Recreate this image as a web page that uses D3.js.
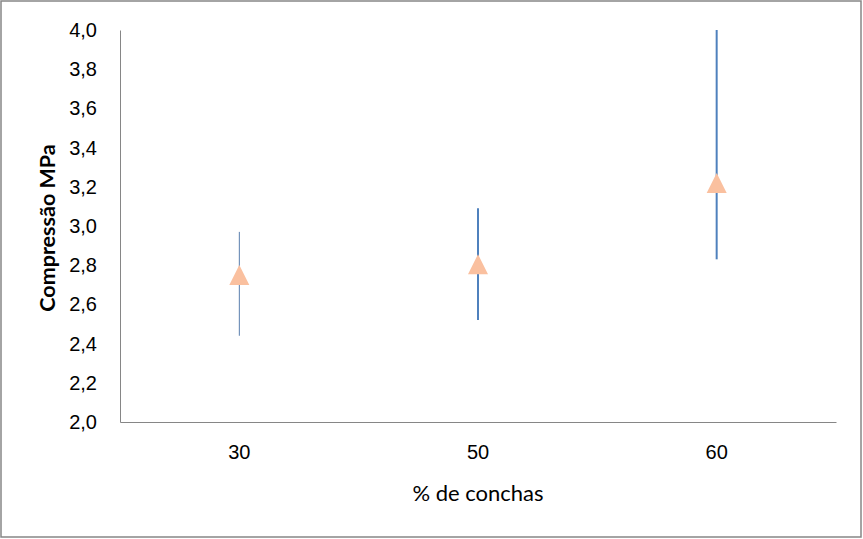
<!DOCTYPE html>
<html>
<head>
<meta charset="utf-8">
<script src="https://cdn.jsdelivr.net/npm/d3@7"></script>
<style>
  body { margin: 0; background: #fff; }
  svg { display: block; font-family: Lato, "Open Sans", sans-serif; }
</style>
</head>
<body>
<div id="chart"></div>
<script>
var width = 863;
var height = 539;

// values
var categories = ["30", "50", "60"];
var means = [2.75, 2.805, 3.22];
var errLow = [2.44, 2.52, 2.83];
var errHigh = [2.97, 3.09, 4.0];
var barWidths = [1, 2, 2];
var barColors = ["#5a7fae", "#4f81bd", "#4f81bd"];
var yTicks = [2.0, 2.2, 2.4, 2.6, 2.8, 3.0, 3.2, 3.4, 3.6, 3.8, 4.0];

var margin = {top: 30, right: 27, bottom: 117, left: 120};

var svg = d3.select("#chart").append("svg")
    .attr("width", width)
    .attr("height", height);

// outer frame
svg.append("rect")
    .attr("x", 1).attr("y", 1)
    .attr("width", width - 3).attr("height", height - 3)
    .attr("fill", "white")
    .attr("stroke", "#868686")
    .attr("stroke-width", 1.5);

var x = d3.scaleBand()
    .domain(categories)
    .range([margin.left, width - margin.right]);

var y = d3.scaleLinear()
    .domain([2.0, 4.0])
    .range([height - margin.bottom, margin.top]);

var fmt = d => d3.format(".1f")(d).replace(".", ",");

var yAxis = svg.append("g")
    .attr("transform", `translate(${margin.left},0)`)
    .call(d3.axisLeft(y).tickValues(yTicks).tickFormat(fmt).tickSize(0).tickPadding(23));
yAxis.select(".domain").attr("stroke", "#868686");
yAxis.selectAll("text").attr("font-size", 20).attr("fill", "#000");

var xAxis = svg.append("g")
    .attr("transform", `translate(0,${height - margin.bottom})`)
    .call(d3.axisBottom(x).tickSize(0).tickPadding(23));
xAxis.select(".domain").attr("stroke", "#868686");
xAxis.selectAll("text").attr("font-size", 20).attr("fill", "#000");

// axis titles
svg.append("text")
    .attr("x", x.range()[0] + (x.range()[1] - x.range()[0]) / 2)
    .attr("y", 501)
    .attr("text-anchor", "middle")
    .attr("font-size", 22)
    .text("% de conchas");

svg.append("text")
    .attr("transform", `translate(55,${(y(3.0) + 2)}) rotate(-90)`)
    .attr("text-anchor", "middle")
    .attr("font-size", 21.5)
    .attr("font-weight", "bold")
    .text("Compressão MPa");

var points = categories.map((c, i) => ({cat: c, mean: means[i], lo: errLow[i], hi: errHigh[i], w: barWidths[i], color: barColors[i]}));

// error bars
svg.append("g")
  .selectAll("line")
  .data(points)
  .join("line")
    .attr("x1", d => x(d.cat) + x.bandwidth() / 2)
    .attr("x2", d => x(d.cat) + x.bandwidth() / 2)
    .attr("y1", d => y(d.lo))
    .attr("y2", d => y(d.hi))
    .attr("stroke", d => d.color)
    .attr("stroke-width", d => d.w);

// triangle markers
svg.append("g")
  .selectAll("path")
  .data(points)
  .join("path")
    .attr("d", "M0,-10L10,10L-10,10Z")
    .attr("transform", d => `translate(${x(d.cat) + x.bandwidth() / 2},${y(d.mean)})`)
    .attr("fill", "#fac09f");
</script>
</body>
</html>
